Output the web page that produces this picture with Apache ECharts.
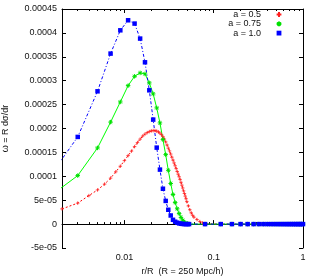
<!DOCTYPE html>
<html>
<head>
<meta charset="utf-8">
<script src="https://cdn.jsdelivr.net/npm/echarts@6.0.0/dist/echarts.min.js"></script>
<style>
html,body{margin:0;padding:0;background:#fff;}
#c{width:312px;height:277px;}
</style>
</head>
<body>
<div id="c"></div>
<script>
// ---- data ----
const seriesNames = ['a = 0.5', 'a = 0.75', 'a = 1.0'];

// a = 0.5 (red)
const rRed = [0.002,0.003,0.004,0.005,0.006,0.007,0.008,0.009,0.010,0.011,0.012,0.013,0.014,0.015,0.016,0.017,0.018,0.019,0.020,
  0.021,0.022,0.023,0.024,0.025,0.026,0.027,0.028,0.029,0.030,0.031,0.032,0.033,0.034,0.035,0.036,0.037,0.038,0.039,0.040,
  0.041,0.042,0.043,0.044,0.045,0.046,0.047,0.048,0.049,0.050,0.052,0.054,0.056,0.058,0.060,0.065,0.070,0.075,0.080,
  0.12,0.16,0.20,0.24,0.28,0.32,0.36,0.40,0.44,0.48,0.52,0.56,0.60,0.64,0.68,0.72,0.76,0.80,0.84,0.88,0.92,0.96,1.0];
const wRed = [3.18e-5,4.39e-5,5.96e-5,7.15e-5,8.37e-5,9.62e-5,1.094e-4,1.211e-4,1.328e-4,1.433e-4,1.527e-4,1.621e-4,1.705e-4,1.778e-4,1.841e-4,1.883e-4,1.914e-4,1.935e-4,1.950e-4,
  1.956e-4,1.956e-4,1.946e-4,1.929e-4,1.904e-4,1.870e-4,1.830e-4,1.780e-4,1.720e-4,1.655e-4,1.590e-4,1.530e-4,1.465e-4,1.400e-4,1.340e-4,1.280e-4,1.220e-4,1.160e-4,1.100e-4,1.045e-4,
  9.9e-5,9.35e-5,8.75e-5,8.15e-5,7.55e-5,6.95e-5,6.4e-5,5.85e-5,5.3e-5,4.7e-5,3.8e-5,3.0e-5,2.35e-5,1.85e-5,1.45e-5,9.4e-6,5.2e-6,2.5e-6,1.0e-6,
  0,0,0,0,0,0,0,0,0,0,0,0,0,0,0,0,0,0,0,0,0,0,0];

// a = 0.75 (green) and a = 1.0 (blue) share the same radii
const rGB = [0.001,0.003,0.005,0.007,0.009,0.011,0.013,0.015,0.017,0.019,0.021,0.023,0.025,0.027,0.029,0.031,0.033,0.035,
  0.037,0.039,0.041,0.043,0.045,0.047,0.049,0.051,0.053,
  0.08,0.12,0.16,0.20,0.24,0.28,0.32,0.36,0.40,0.44,0.48,0.52,0.56,0.60,0.64,0.68,0.72,0.76,0.80,0.84,0.88,0.92,0.96,1.0];
const wGreen = [3.5e-5,1.015e-4,1.594e-4,2.134e-4,2.556e-4,2.897e-4,3.092e-4,3.163e-4,3.142e-4,2.954e-4,2.724e-4,2.431e-4,2.117e-4,1.768e-4,1.454e-4,1.125e-4,8.5e-5,6.2e-5,
  4.5e-5,3.2e-5,2.2e-5,1.4e-5,8e-6,4e-6,2e-6,1e-6,0,
  0,0,0,0,0,0,0,0,0,0,0,0,0,0,0,0,0,0,0,0,0,0,0,0];
const wBlue = [5.7e-5,1.824e-4,2.778e-4,3.567e-4,4.054e-4,4.264e-4,4.195e-4,3.881e-4,3.385e-4,2.799e-4,2.186e-4,1.6e-4,1.14e-4,7.4e-5,4.85e-5,3.0e-5,1.8e-5,9e-6,
  5e-6,3e-6,1.5e-6,8e-7,3e-7,1e-7,0,0,0,
  0,0,0,0,0,0,0,0,0,0,0,0,0,0,0,0,0,0,0,0,0,0,0,0];

// axis ticks
const xMajorTicks = [0.01, 0.1, 1];
const xMinorTicks = [0.003,0.004,0.005,0.006,0.007,0.008,0.009,0.02,0.03,0.04,0.05,0.06,0.07,0.08,0.09,0.2,0.3,0.4,0.5,0.6,0.7,0.8,0.9];
const yMin = -5e-5, yMax = 0.00045, yStep = 5e-5;
const xMin = 0.002, xMax = 1;

// ---- chart ----
const zip = (xs, ys) => xs.map((x, i) => [x, ys[i]]);
const FONT = 'Liberation Sans';
const TXT = '#111';

function fmtY(v) {
  v = Number(v.toPrecision(6));
  if (v === 0) return '0';
  if (Math.abs(v) < 1e-4) {
    return v.toExponential().replace(/e([+-])(\d)$/, (m, s, d) => 'e' + s + '0' + d);
  }
  return String(v);
}
function fmtX(v) { return String(Number(v.toPrecision(6))); }

const baseX = {
  type: 'log', logBase: 10, min: xMin, max: xMax,
  splitLine: { show: false }, minorSplitLine: { show: false }
};

const chart = echarts.init(document.getElementById('c'), null, { renderer: 'canvas' });
chart.setOption({
  animation: false,
  backgroundColor: '#fff',
  grid: { left: 62, right: 9, top: 9, bottom: 29, containLabel: false, outerBoundsMode: 'none' },
  xAxis: [
    Object.assign({}, baseX, {
      position: 'bottom',
      name: 'r/R  (R = 250 Mpc/h)', nameLocation: 'middle', nameGap: 19,
      nameTextStyle: { fontFamily: FONT, fontSize: 9, color: TXT },
      axisLine: { show: true, lineStyle: { color: '#000', width: 1 } },
      axisTick: { show: true, inside: true, length: 4, customValues: xMajorTicks, lineStyle: { color: '#000' } },
      axisLabel: { show: true, customValues: xMajorTicks, formatter: fmtX, margin: 5, fontFamily: FONT, fontSize: 9, color: TXT }
    }),
    Object.assign({}, baseX, {
      position: 'bottom',
      axisLine: { show: false },
      axisTick: { show: true, inside: true, length: 2, customValues: xMinorTicks, lineStyle: { color: '#000' } },
      axisLabel: { show: false }
    }),
    Object.assign({}, baseX, {
      position: 'top',
      axisLine: { show: true, lineStyle: { color: '#000', width: 1 } },
      axisTick: { show: true, inside: true, length: 4, customValues: xMajorTicks, lineStyle: { color: '#000' } },
      axisLabel: { show: false }
    }),
    Object.assign({}, baseX, {
      position: 'top',
      axisLine: { show: false },
      axisTick: { show: true, inside: true, length: 2, customValues: xMinorTicks, lineStyle: { color: '#000' } },
      axisLabel: { show: false }
    })
  ],
  yAxis: [
    {
      type: 'value', min: yMin, max: yMax, interval: yStep, position: 'left',
      name: 'ω = R dσ/dr', nameLocation: 'middle', nameGap: 52,
      nameTextStyle: { fontFamily: FONT, fontSize: 9, color: TXT },
      splitLine: { show: false },
      axisLine: { show: true, lineStyle: { color: '#000', width: 1 } },
      axisTick: { show: true, inside: true, length: 4, lineStyle: { color: '#000' } },
      axisLabel: { formatter: fmtY, margin: 5, fontFamily: FONT, fontSize: 9, color: TXT }
    },
    {
      type: 'value', min: yMin, max: yMax, interval: yStep, position: 'right',
      splitLine: { show: false },
      axisLine: { show: true, lineStyle: { color: '#000', width: 1 } },
      axisTick: { show: true, inside: true, length: 4, lineStyle: { color: '#000' } },
      axisLabel: { show: false }
    }
  ],
  legend: [0, 1, 2].map(i => ({
    data: [seriesNames[i]],
    orient: 'vertical', align: 'right', right: 19, top: 10 + i * 9.3,
    padding: 0, itemWidth: 26, itemHeight: 6, selectedMode: false,
    lineStyle: { opacity: 0 },
    textStyle: { fontFamily: FONT, fontSize: 9, color: TXT }
  })),
  series: [
    {
      name: seriesNames[0], type: 'line', xAxisIndex: 0, yAxisIndex: 0,
      data: zip(rRed, wRed),
      symbol: 'path://M0,5L10,5M5,0L5,10', symbolSize: 3.5,
      itemStyle: { color: 'rgba(0,0,0,0)', borderColor: '#ff2020', borderWidth: 0.8 },
      lineStyle: { color: '#ff0000', width: 1, type: [2, 2] },
      clip: true
    },
    {
      name: seriesNames[1], type: 'line', xAxisIndex: 0, yAxisIndex: 0,
      data: zip(rGB, wGreen),
      symbol: 'path://M0,5L10,5M5,0L5,10M1.5,1.5L8.5,8.5M8.5,1.5L1.5,8.5', symbolSize: 4.5,
      itemStyle: { color: 'rgba(0,0,0,0)', borderColor: '#00e000', borderWidth: 1 },
      lineStyle: { color: '#00ff00', width: 1, type: 'solid' },
      clip: true
    },
    {
      name: seriesNames[2], type: 'line', xAxisIndex: 0, yAxisIndex: 0,
      data: zip(rGB, wBlue),
      symbol: 'rect', symbolSize: 4.5,
      itemStyle: { color: '#0000ff' },
      lineStyle: { color: '#0000ff', width: 1, type: [3, 2, 1, 2] },
      clip: true
    }
  ]
});
</script>
</body>
</html>
